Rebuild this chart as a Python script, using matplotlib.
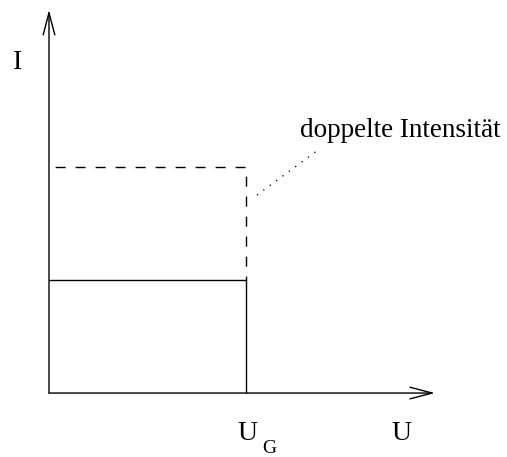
import matplotlib
matplotlib.use("Agg")
import matplotlib.pyplot as plt

# data (arbitrary units): threshold voltage and the two current levels
U_G = 1.0
I_single = 1.0
I_double = 2.0
annotation_text = "doppelte Intensität"

plt.rcParams['font.family'] = ['Liberation Serif', 'DejaVu Serif']

fig = plt.figure(figsize=(5.07, 4.57), dpi=100)
ax = fig.add_axes([0, 0, 1, 1])
ax.set_xlim(-0.2487, 2.325)
ax.set_ylim(-0.566, 3.478)
ax.axis('off')

# axes with open arrowheads
arrow_kw = dict(arrowstyle='->,head_length=1.6,head_width=0.42', lw=1.0,
                color='black', mutation_scale=10, shrinkA=0, shrinkB=0)
ax.annotate('', xy=(1.959, 0), xytext=(0, 0), arrowprops=arrow_kw)
ax.annotate('', xy=(0, 3.39), xytext=(0, 0), arrowprops=arrow_kw)

# single intensity (solid)
ax.plot([0, U_G, U_G], [I_single, I_single, 0], color='black', lw=1.0,
        solid_capstyle='butt')
# double intensity (dashed)
ax.plot([0, U_G, U_G], [I_double, I_double, I_single], color='black', lw=1.0,
        linestyle=(10.0, (7.2, 7.2)), dash_capstyle='butt')

# dotted leader line
ax.plot([1.056, 1.365], [1.752, 2.150], color='black', lw=1.0,
        linestyle=(0, (0.9, 4.8)))

ax.text(1.274, 2.265, annotation_text, fontsize=19.5, ha='left', va='baseline')
ax.text(-0.16, 2.867, 'I', fontsize=20, ha='center', va='baseline')
ax.text(1.787, -0.416, 'U', fontsize=20, ha='center', va='baseline')
ax.text(1.008, -0.416, 'U', fontsize=20, ha='center', va='baseline')
ax.text(1.119, -0.53, 'G', fontsize=14, ha='center', va='baseline')

fig.savefig('out.png', dpi=100)
